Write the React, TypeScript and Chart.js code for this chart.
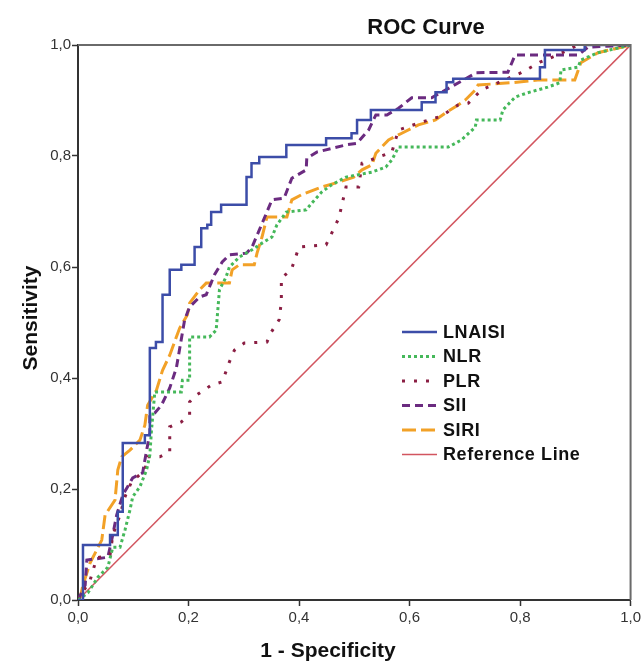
import React, { useEffect, useRef } from "react";
import { Chart, registerables } from "chart.js";

Chart.register(...registerables);

const TITLE = "ROC Curve";
const X_TITLE = "1 - Specificity";
const Y_TITLE = "Sensitivity";
const TICKS = [0, 0.2, 0.4, 0.6, 0.8, 1.0];
const NAMES = ["LNAISI", "NLR", "PLR", "SII", "SIRI", "Reference Line"];

// LNAISI ROC points (step curve)
const LNAISI_X = [0, 0.009, 0.058, 0.072, 0.081, 0.121, 0.130, 0.141, 0.153, 0.166, 0.187, 0.211, 0.223, 0.234, 0.241, 0.259, 0.305, 0.314, 0.328, 0.377, 0.449, 0.495, 0.505, 0.530, 0.622, 0.647, 0.667, 0.679, 0.836, 0.845, 0.917, 1.0];
const LNAISI_Y = [0, 0.099, 0.117, 0.159, 0.283, 0.297, 0.454, 0.465, 0.550, 0.595, 0.604, 0.636, 0.670, 0.676, 0.699, 0.712, 0.762, 0.787, 0.798, 0.820, 0.832, 0.841, 0.865, 0.883, 0.897, 0.915, 0.933, 0.939, 0.960, 0.991, 1.0, 1.0];

const NLR_X = [0, 0.018, 0.036, 0.054, 0.063, 0.076, 0.085, 0.094, 0.099, 0.112, 0.124, 0.130, 0.133, 0.139, 0.187, 0.189, 0.202, 0.202, 0.238, 0.250, 0.256, 0.268, 0.274, 0.292, 0.315, 0.333, 0.351, 0.360, 0.377, 0.413, 0.423, 0.441, 0.459, 0.485, 0.532, 0.557, 0.568, 0.580, 0.670, 0.694, 0.719, 0.721, 0.764, 0.769, 0.791, 0.814, 0.850, 0.872, 0.874, 0.905, 0.910, 0.941, 1.0];
const NLR_Y = [0, 0.013, 0.041, 0.059, 0.095, 0.095, 0.126, 0.162, 0.186, 0.204, 0.234, 0.261, 0.306, 0.375, 0.375, 0.396, 0.396, 0.474, 0.474, 0.486, 0.559, 0.582, 0.600, 0.618, 0.631, 0.643, 0.654, 0.676, 0.699, 0.703, 0.715, 0.735, 0.748, 0.762, 0.771, 0.780, 0.793, 0.816, 0.816, 0.829, 0.852, 0.865, 0.865, 0.883, 0.906, 0.914, 0.924, 0.932, 0.955, 0.960, 0.973, 0.986, 1.0];

const PLR_X = [0, 0.022, 0.034, 0.058, 0.063, 0.076, 0.085, 0.097, 0.121, 0.126, 0.148, 0.166, 0.166, 0.187, 0.202, 0.202, 0.214, 0.241, 0.261, 0.274, 0.283, 0.301, 0.342, 0.350, 0.364, 0.368, 0.368, 0.386, 0.400, 0.449, 0.472, 0.485, 0.508, 0.514, 0.568, 0.580, 0.616, 0.658, 0.688, 0.706, 0.730, 0.802, 0.836, 0.868, 0.905, 1.0];
const PLR_Y = [0, 0.036, 0.076, 0.081, 0.117, 0.153, 0.186, 0.213, 0.234, 0.258, 0.258, 0.267, 0.312, 0.321, 0.333, 0.357, 0.369, 0.387, 0.393, 0.429, 0.450, 0.463, 0.465, 0.483, 0.505, 0.537, 0.580, 0.595, 0.636, 0.640, 0.688, 0.744, 0.744, 0.787, 0.807, 0.847, 0.859, 0.872, 0.892, 0.895, 0.919, 0.950, 0.969, 0.982, 1.0, 1.0];

const SII_X = [0, 0.013, 0.016, 0.054, 0.061, 0.070, 0.081, 0.099, 0.117, 0.121, 0.130, 0.130, 0.139, 0.151, 0.166, 0.178, 0.193, 0.202, 0.220, 0.232, 0.247, 0.261, 0.274, 0.305, 0.315, 0.341, 0.351, 0.373, 0.387, 0.413, 0.414, 0.432, 0.485, 0.505, 0.526, 0.539, 0.559, 0.580, 0.604, 0.640, 0.721, 0.778, 0.791, 0.905, 0.923, 1.0];
const SII_Y = [0, 0.027, 0.072, 0.077, 0.108, 0.153, 0.189, 0.220, 0.229, 0.252, 0.301, 0.333, 0.337, 0.351, 0.382, 0.418, 0.505, 0.528, 0.546, 0.550, 0.586, 0.609, 0.622, 0.625, 0.636, 0.697, 0.721, 0.724, 0.760, 0.775, 0.796, 0.807, 0.820, 0.823, 0.847, 0.874, 0.874, 0.886, 0.905, 0.905, 0.950, 0.951, 0.982, 0.982, 0.996, 1.0];

const SIRI_X = [0, 0.004, 0.009, 0.022, 0.043, 0.049, 0.067, 0.072, 0.079, 0.094, 0.112, 0.121, 0.126, 0.142, 0.153, 0.166, 0.178, 0.184, 0.198, 0.202, 0.220, 0.232, 0.274, 0.279, 0.292, 0.319, 0.324, 0.333, 0.342, 0.378, 0.387, 0.404, 0.441, 0.472, 0.499, 0.514, 0.532, 0.539, 0.562, 0.586, 0.616, 0.647, 0.667, 0.688, 0.701, 0.719, 0.724, 0.784, 0.832, 0.899, 0.910, 0.941, 1.0];
const SIRI_Y = [0, 0.005, 0.027, 0.067, 0.108, 0.153, 0.180, 0.234, 0.258, 0.270, 0.288, 0.315, 0.351, 0.378, 0.414, 0.441, 0.474, 0.490, 0.514, 0.535, 0.559, 0.571, 0.571, 0.595, 0.604, 0.604, 0.625, 0.654, 0.690, 0.690, 0.721, 0.730, 0.744, 0.753, 0.762, 0.775, 0.784, 0.805, 0.829, 0.841, 0.856, 0.865, 0.879, 0.892, 0.901, 0.919, 0.928, 0.932, 0.937, 0.937, 0.968, 0.986, 1.0];

const REF_X = [0, 1];
const REF_Y = [0, 1];

const FONT = '"Liberation Sans", Arial, sans-serif';

const pts = (xs: number[], ys: number[]) => xs.map((x, i) => ({ x, y: ys[i] }));
const fmt = (v: number) => v.toFixed(1).replace(".", ",");

const decor = {
  id: "decor",
  afterDraw(chart: any) {
    const { ctx, chartArea: a } = chart;
    ctx.save();
    // top & right frame
    ctx.strokeStyle = "#6a6a6a";
    ctx.lineWidth = 2;
    ctx.setLineDash([]);
    ctx.beginPath();
    ctx.moveTo(a.left, a.top);
    ctx.lineTo(a.right, a.top);
    ctx.lineTo(a.right, a.bottom);
    ctx.stroke();

    ctx.fillStyle = "#111";
    ctx.textBaseline = "alphabetic";
    ctx.textAlign = "center";
    ctx.font = `bold 22px ${FONT}`;
    ctx.fillText(TITLE, 426, 34);

    ctx.font = `bold 21px ${FONT}`;
    ctx.fillText(X_TITLE, 328, 657);

    ctx.save();
    ctx.translate(37, 318);
    ctx.rotate(-Math.PI / 2);
    ctx.fillText(Y_TITLE, 0, 0);
    ctx.restore();

    // legend
    const ds = chart.data.datasets;
    ctx.font = `bold 18px ${FONT}`;
    try { (ctx as any).letterSpacing = "0.6px"; } catch (e) {}
    ctx.textAlign = "left";
    ctx.textBaseline = "middle";
    ds.forEach((d: any, i: number) => {
      const y = 332 + i * 24.5;
      ctx.strokeStyle = d.borderColor;
      ctx.lineWidth = d.borderWidth;
      ctx.setLineDash(d.borderDash || []);
      ctx.lineCap = "butt";
      ctx.beginPath();
      ctx.moveTo(402, y);
      ctx.lineTo(437, y);
      ctx.stroke();
      ctx.setLineDash([]);
      ctx.fillStyle = "#111";
      ctx.fillText(d.label, 443, y + 1);
    });
    ctx.restore();
  },
};

export default function App() {
  const ref = useRef<HTMLCanvasElement | null>(null);
  useEffect(() => {
    if (!ref.current) return;
    const axis = (isX: boolean) => ({
      type: "linear",
      min: 0,
      max: 1,
      afterBuildTicks: (s: any) => {
        s.ticks = TICKS.map((v) => ({ value: v }));
      },
      afterFit: (s: any) => {
        if (isX) s.height = 64;
        else s.width = 78;
      },
      ticks: {
        callback: (v: any) => fmt(Number(v)),
        font: { family: FONT, size: 15 },
        color: "#333",
        padding: isX ? 3 : 1,
        maxRotation: 0,
        autoSkip: false,
      },
      grid: {
        display: true,
        drawOnChartArea: false,
        drawTicks: true,
        tickLength: 6,
        tickColor: "#333",
        tickWidth: 1.5,
      },
      border: { display: true, color: "#333", width: 2 },
      title: { display: false },
    });
    const chart = new Chart(ref.current, {
      type: "scatter",
      data: {
        datasets: [
          { label: NAMES[0], data: pts(LNAISI_X, LNAISI_Y), showLine: true, stepped: "before", borderColor: "#3C4DA8", borderWidth: 2.5, pointRadius: 0 },
          { label: NAMES[1], data: pts(NLR_X, NLR_Y), showLine: true, borderColor: "#45B85A", borderWidth: 3, borderDash: [3, 3], pointRadius: 0 },
          { label: NAMES[2], data: pts(PLR_X, PLR_Y), showLine: true, borderColor: "#8A1E43", borderWidth: 3, borderDash: [3, 9], pointRadius: 0 },
          { label: NAMES[3], data: pts(SII_X, SII_Y), showLine: true, borderColor: "#6B2B80", borderWidth: 3, borderDash: [8, 5], pointRadius: 0 },
          { label: NAMES[4], data: pts(SIRI_X, SIRI_Y), showLine: true, borderColor: "#F2A127", borderWidth: 3, borderDash: [14, 5], pointRadius: 0 },
          { label: NAMES[5], data: pts(REF_X, REF_Y), showLine: true, borderColor: "#D2555F", borderWidth: 1.5, pointRadius: 0 },
        ] as any,
      },
      options: {
        animation: false,
        responsive: false,
        devicePixelRatio: 1,
        layout: { padding: { top: 45, right: 11, left: 0, bottom: 0 }, autoPadding: false } as any,
        plugins: { legend: { display: false }, title: { display: false }, tooltip: { enabled: false } },
        scales: { x: axis(true) as any, y: axis(false) as any },
      },
      plugins: [decor],
    });
    return () => chart.destroy();
  }, []);
  return (
    <div style={{ position: "fixed", left: 0, top: 0, width: 644, height: 664, background: "#fff" }}>
      <canvas ref={ref} width={644} height={664} />
    </div>
  );
}
